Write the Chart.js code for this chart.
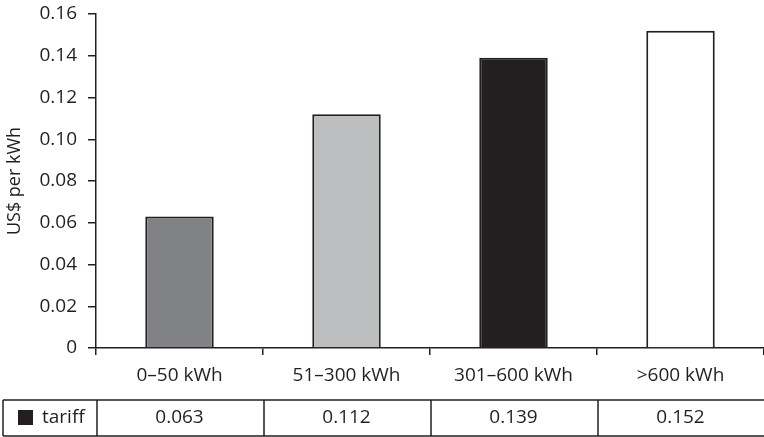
<!DOCTYPE html>
<html>
<head>
<meta charset="utf-8">
<script src="https://cdn.jsdelivr.net/npm/chart.js@4/dist/chart.umd.min.js"></script>
<style>
  html, body { margin: 0; padding: 0; background: #ffffff; }
  #wrap { position: relative; width: 764px; height: 437px; }
</style>
</head>
<body>
<div id="wrap"><canvas id="c" width="764" height="437"></canvas></div>
<script>
const categories = ['0\u201350 kWh', '51\u2013300 kWh', '301\u2013600 kWh', '>600 kWh'];
const tariff = [0.063, 0.112, 0.139, 0.152];
const tariffLabels = ['0.063', '0.112', '0.139', '0.152'];
const seriesName = 'tariff';
const yTickLabels = ['0', '0.02', '0.04', '0.06', '0.08', '0.10', '0.12', '0.14', '0.16'];
const yTickValues = [0, 0.02, 0.04, 0.06, 0.08, 0.10, 0.12, 0.14, 0.16];
const yTitle = 'US$ per kWh';

const INK = '#231f20';
const FONT = '"Open Sans", "DejaVu Sans", sans-serif';
const FS = 19;
const barColors = ['#808285', '#bcbec0', '#231f20', '#ffffff'];

const tablePlugin = {
  id: 'dataTable',
  afterDraw(chart) {
    const ctx = chart.ctx;
    const xs = chart.scales.x;
    const n = categories.length;
    const cw = (xs.right - xs.left) / n;
    const top = 400, bottom = 436, leftEdge = 3;
    ctx.save();
    ctx.strokeStyle = INK;
    ctx.lineWidth = 1.5;
    ctx.beginPath();
    ctx.moveTo(leftEdge, top); ctx.lineTo(chart.width, top);
    ctx.moveTo(leftEdge, bottom); ctx.lineTo(chart.width, bottom);
    ctx.moveTo(leftEdge, top); ctx.lineTo(leftEdge, bottom);
    for (let i = 0; i < n; i++) {
      const x = xs.getPixelForValue(i) - cw / 2 + 1;
      ctx.moveTo(x, top); ctx.lineTo(x, bottom);
    }
    ctx.stroke();
    const midY = (top + bottom) / 2;
    ctx.fillStyle = INK;
    ctx.fillRect(18, midY - 8, 15, 15);
    ctx.font = FS + 'px ' + FONT;
    ctx.textBaseline = 'middle';
    ctx.textAlign = 'left';
    ctx.fillText(seriesName, 42, midY);
    ctx.textAlign = 'center';
    for (let i = 0; i < n; i++) {
      ctx.fillText(tariffLabels[i], xs.getPixelForValue(i), midY);
    }
    ctx.restore();
  }
};

new Chart(document.getElementById('c'), {
  type: 'bar',
  data: {
    labels: categories,
    datasets: [{
      label: seriesName,
      data: tariff,
      backgroundColor: barColors,
      borderColor: INK,
      borderWidth: 2,
      barPercentage: 0.41,
      categoryPercentage: 1.0
    }]
  },
  options: {
    responsive: false,
    animation: false,
    devicePixelRatio: 1,
    layout: { padding: { top: 14, right: 0, bottom: 0, left: 0 } },
    plugins: { legend: { display: false }, tooltip: { enabled: false } },
    scales: {
      x: {
        afterFit(s) { s.height = 89; s.paddingLeft = 0; s.paddingRight = 0; },
        border: { display: true, color: INK, width: 1.5 },
        grid: { drawOnChartArea: false, drawTicks: true, tickLength: 7, offset: true, color: INK, lineWidth: 1.5 },
        ticks: { color: INK, font: { family: FONT, size: FS }, padding: 9, maxRotation: 0 }
      },
      y: {
        min: 0, max: 0.16,
        afterFit(s) { s.width = 96; s.paddingTop = 0; s.paddingBottom = 0; },
        afterBuildTicks(s) { s.ticks = yTickValues.map(v => ({ value: v })); },
        border: { display: true, color: INK, width: 1.5 },
        grid: { drawOnChartArea: false, drawTicks: true, tickLength: 8, color: INK, lineWidth: 1.5 },
        ticks: {
          color: INK, font: { family: FONT, size: FS }, padding: 11,
          callback: (v, i) => yTickLabels[i]
        },
        title: { display: true, text: yTitle, color: INK, font: { family: FONT, size: 18 }, padding: { top: 4, bottom: 4 } }
      }
    }
  },
  plugins: [tablePlugin]
});
</script>
</body>
</html>
